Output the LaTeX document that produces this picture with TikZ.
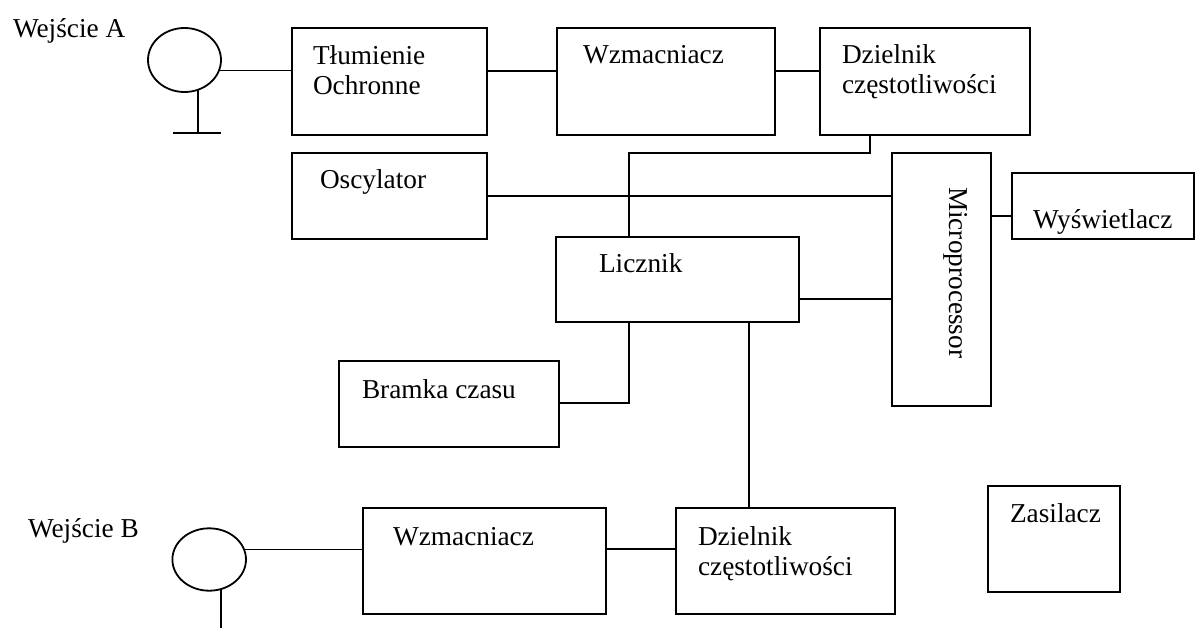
\documentclass[tikz,border=0pt]{standalone}
\usepackage{fontspec}
\setmainfont{Liberation Serif}
\usetikzlibrary{shapes.geometric}
\begin{document}
\begin{tikzpicture}[x=1pt,y=-1pt,
  box/.style={draw,rectangle,line width=2.2pt,inner sep=0pt,outer sep=0pt},
  port/.style={draw,ellipse,line width=1.8pt,inner sep=0pt,outer sep=0pt},
  wire/.style={line width=1.7pt},
  txt/.style={anchor=base west,inner sep=0pt,outer sep=0pt,font=\fontsize{27.3}{30.5}\selectfont}]
\useasboundingbox (0,0) rectangle (1196,627);
% boxes
\node[box,minimum width=195pt,minimum height=107pt] (tlum) at (389.5,81.5) {};
\node[box,minimum width=218pt,minimum height=107pt] (wzmA) at (666,81.5) {};
\node[box,minimum width=210pt,minimum height=107pt] (dzielA) at (925,81.5) {};
\node[box,minimum width=195pt,minimum height=86pt] (osc) at (389.5,196) {};
\node[box,minimum width=99pt,minimum height=253pt] (micro) at (941.5,279.5) {};
\node[box,minimum width=182pt,minimum height=66pt] (wysw) at (1103,206) {};
\node[box,minimum width=243pt,minimum height=85pt] (licz) at (677.5,279.5) {};
\node[box,minimum width=220pt,minimum height=86pt] (bramka) at (449,404) {};
\node[box,minimum width=243pt,minimum height=106pt] (wzmB) at (484.5,561) {};
\node[box,minimum width=219pt,minimum height=106pt] (dzielB) at (785.5,561) {};
\node[box,minimum width=132pt,minimum height=106pt] (zasil) at (1054,539) {};
% input ports
\node[port,minimum width=73pt,minimum height=64pt] (inA) at (184.5,60) {};
\node[port,minimum width=73.6pt,minimum height=62.4pt] (inB) at (209.2,559.5) {};
% helper coordinates
\coordinate (yA) at (0,71);
\coordinate (gA) at (197.7,133);
\coordinate (gAl) at (173,133);
\coordinate (gAr) at (221,133);
\coordinate (gB) at (220.7,628);
\coordinate (xD) at (870,0);
\coordinate (yD) at (0,153);
\coordinate (xL) at (629,0);
\coordinate (xR) at (749,0);
\coordinate (yW) at (0,216);
\coordinate (yM) at (0,299);
\coordinate (yG) at (0,403);
\coordinate (yB) at (0,549);
% connectors
\draw[wire] (inA.-17.7) -- (inA.-17.7 -| tlum.west);
\draw[wire] (inA.-66) -- (inA.-66 |- gA);
\draw[wire] (gAl) -- (gAr);
\draw[wire] (tlum.east |- yA) -- (wzmA.west |- yA);
\draw[wire] (wzmA.east |- yA) -- (dzielA.west |- yA);
\draw[wire] (dzielA.south -| xD) -- (xD |- yD) -- (xL |- yD) -- (licz.north -| xL);
\draw[wire] (osc.east) -- (osc.east -| micro.west);
\draw[wire] (micro.east |- yW) -- (wysw.west |- yW);
\draw[wire] (licz.east |- yM) -- (micro.west |- yM);
\draw[wire] (licz.south -| xL) -- (xL |- yG) -- (bramka.east |- yG);
\draw[wire] (licz.south -| xR) -- (dzielB.north -| xR);
\draw[wire] (inB.16.9) -- (inB.16.9 -| wzmB.west);
\draw[wire] (inB.-68.8) -- (inB.-68.8 |- gB);
\draw[wire] (wzmB.east |- yB) -- (dzielB.west |- yB);
% texts
\node[txt] (tInA) at (13,37) {Wejście A};
\node[txt] (tTlum) at (313,64) {\vtop{\hbox{Tłumienie}\hbox{Ochronne}}};
\node[txt] (tWzmA) at (583,63) {Wzmacniacz};
\node[txt] (tDzA) at (842,63) {\vtop{\hbox{Dzielnik}\hbox{częstotliwości}}};
\node[txt] (tOsc) at (320,188) {Oscylator};
\node[txt] (tLicz) at (599,272) {Licznik};
\node[txt,rotate=-90] (tMicro) at (949,187) {Microprocessor};
\node[txt] (tWysw) at (1033,228) {Wyświetlacz};
\node[txt] (tBram) at (362,398) {Bramka czasu};
\node[txt] (tInB) at (28,537) {Wejście B};
\node[txt] (tWzmB) at (393,545) {Wzmacniacz};
\node[txt] (tDzB) at (698,545) {\vtop{\hbox{Dzielnik}\hbox{częstotliwości}}};
\node[txt] (tZas) at (1010,522) {Zasilacz};
\end{tikzpicture}
\end{document}
